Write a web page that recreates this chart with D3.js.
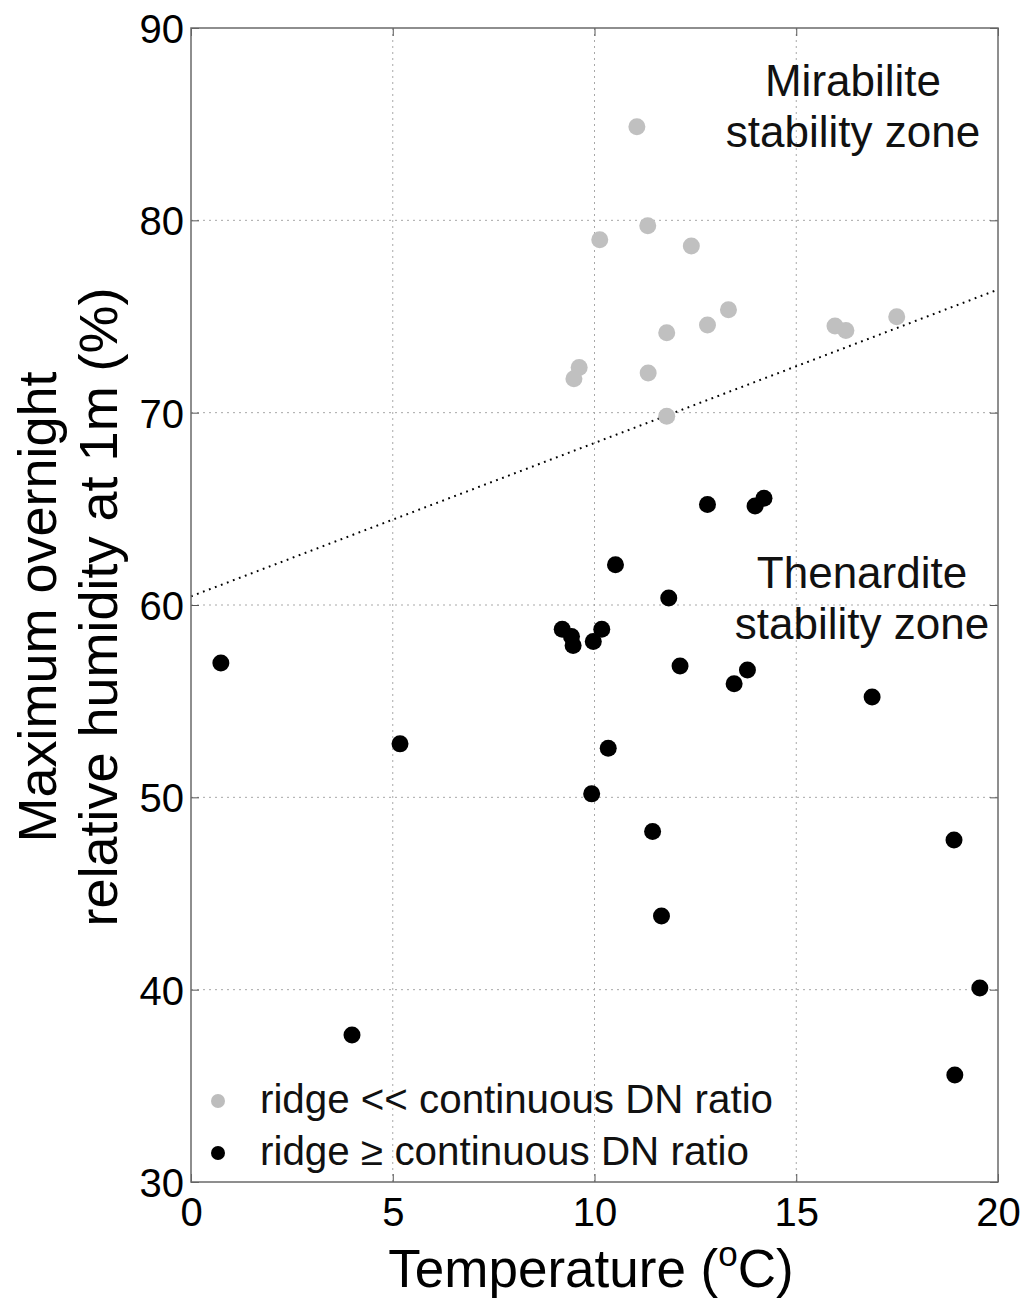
<!DOCTYPE html>
<html>
<head>
<meta charset="utf-8">
<script src="https://cdn.jsdelivr.net/npm/d3@7"></script>
<style>
  body { margin: 0; background: #fff; }
  svg { font-family: "Liberation Sans", Arial, sans-serif; }
</style>
</head>
<body>
<svg id="chart" width="1024" height="1306"></svg>
<script>
// gray points: ridge << continuous DN ratio
const grayTemp = [11.05, 10.13, 11.32, 12.40, 9.62, 9.49, 11.79, 12.80, 13.32, 11.33, 11.79, 15.96, 16.23, 17.49];
const grayRH   = [84.87, 78.99, 79.72, 78.67, 72.35, 71.76, 74.16, 74.56, 75.35, 72.06, 69.81, 74.51, 74.27, 74.99];

// black points: ridge >= continuous DN ratio
const blackTemp = [12.80, 13.98, 14.20, 10.52, 11.84, 9.20, 9.43, 9.47, 10.18, 9.97, 12.12, 13.79, 13.46,
                   0.74, 5.18, 10.34, 9.93, 11.44, 11.66, 16.88, 18.91, 19.55, 18.93, 3.99];
const blackRH   = [65.23, 65.15, 65.55, 62.09, 60.36, 58.74, 58.36, 57.90, 58.74, 58.10, 56.83, 56.62, 55.90,
                   56.99, 52.78, 52.55, 50.18, 48.22, 43.83, 55.22, 47.78, 40.09, 35.56, 37.64];

// dotted stability boundary
const boundaryTemp = [0, 20];
const boundaryRH = [60.45, 76.4];

const xTicks = [0, 5, 10, 15, 20];
const yTicks = [30, 40, 50, 60, 70, 80, 90];

const legendLabels = ['ridge << continuous DN ratio', 'ridge \u2265 continuous DN ratio'];
const legendColors = ['#bdbdbd', '#000000'];

const margin = { top: 28, right: 26, bottom: 124, left: 191 };
const width = 1024, height = 1306;

const svg = d3.select('#chart');

const x = d3.scaleLinear().domain([0, 20]).range([margin.left, width - margin.right]);
const y = d3.scaleLinear().domain([30, 90]).range([height - margin.bottom, margin.top]);

// grid
const grid = svg.append('g')
    .attr('stroke', '#a8a8a8')
    .attr('stroke-width', 1)
    .attr('stroke-dasharray', '2,4');
grid.selectAll('.gx').data(xTicks.slice(1, -1)).join('line')
    .attr('x1', d => x(d)).attr('x2', d => x(d))
    .attr('y1', y(30)).attr('y2', y(90));
grid.selectAll('.gy').data(yTicks.slice(1, -1)).join('line')
    .attr('x1', x(0)).attr('x2', x(20))
    .attr('y1', d => y(d)).attr('y2', d => y(d));

// boundary line
svg.append('line')
    .attr('x1', x(boundaryTemp[0])).attr('y1', y(boundaryRH[0]))
    .attr('x2', x(boundaryTemp[1])).attr('y2', y(boundaryRH[1]))
    .attr('stroke', '#000')
    .attr('stroke-width', 2)
    .attr('stroke-dasharray', '1.8,4.6');

// points
svg.append('g').attr('fill', '#c0c0c0')
    .selectAll('circle')
    .data(grayTemp.map((t, i) => [t, grayRH[i]]))
    .join('circle')
    .attr('cx', d => x(d[0])).attr('cy', d => y(d[1])).attr('r', 8.5);

svg.append('g').attr('fill', '#000')
    .selectAll('circle')
    .data(blackTemp.map((t, i) => [t, blackRH[i]]))
    .join('circle')
    .attr('cx', d => x(d[0])).attr('cy', d => y(d[1])).attr('r', 8.5);

// axes (ticks inside, on all four sides)
svg.append('g').attr('transform', `translate(0,${y(30)})`)
    .call(d3.axisBottom(x).tickValues(xTicks).tickSize(-8).tickSizeOuter(0))
    .call(g => g.select('.domain').remove())
    .call(g => g.selectAll('text').attr('font-size', 40).attr('fill', '#000').attr('y', 44).attr('dy', 0));
svg.append('g').attr('transform', `translate(${x(0)},0)`)
    .call(d3.axisLeft(y).tickValues(yTicks).tickSize(-8).tickSizeOuter(0))
    .call(g => g.select('.domain').remove())
    .call(g => g.selectAll('text').attr('font-size', 40).attr('fill', '#000').attr('x', -7).attr('dy', '0.36em'));
svg.append('g').attr('transform', `translate(0,${y(90)})`)
    .call(d3.axisTop(x).tickValues(xTicks).tickSize(-8).tickFormat('').tickSizeOuter(0))
    .call(g => g.select('.domain').remove());
svg.append('g').attr('transform', `translate(${x(20)},0)`)
    .call(d3.axisRight(y).tickValues(yTicks).tickSize(-8).tickFormat('').tickSizeOuter(0))
    .call(g => g.select('.domain').remove());
svg.selectAll('.tick line').attr('stroke', '#555');

// frame
svg.append('rect')
    .attr('x', x(0)).attr('y', y(90))
    .attr('width', x(20) - x(0)).attr('height', y(30) - y(90))
    .attr('fill', 'none').attr('stroke', '#6a6a6a').attr('stroke-width', 1.5);

// zone labels
const zone = (lines, cx, cy) => {
  const t = svg.append('text').attr('text-anchor', 'middle').attr('font-size', 44).attr('fill', '#111');
  lines.forEach((s, i) => t.append('tspan').attr('x', cx).attr('y', cy + i * 51).text(s));
};
zone(['Mirabilite', 'stability zone'], 853, 96);
zone(['Thenardite', 'stability zone'], 862, 588);

// legend
const legend = svg.append('g');
legendLabels.forEach((s, i) => {
  const ly = 1101 + i * 52;
  legend.append('circle').attr('cx', 218).attr('cy', ly).attr('r', 7).attr('fill', legendColors[i]);
  legend.append('text').attr('x', 260).attr('y', ly + 12).attr('font-size', 40).attr('fill', '#111')
      .attr('textLength', i === 0 ? 513 : 489).attr('lengthAdjust', 'spacingAndGlyphs').text(s);
});

// axis titles
const xt = svg.append('text').attr('x', 591).attr('y', 1287).attr('text-anchor', 'middle')
    .attr('font-size', 53).attr('fill', '#000');
xt.append('tspan').text('Temperature (');
xt.append('tspan').attr('font-size', 35).attr('dy', -21).text('o');
xt.append('tspan').attr('dy', 21).text('C)');

const yt = svg.append('text').attr('transform', 'translate(0,607) rotate(-90)')
    .attr('text-anchor', 'middle').attr('font-size', 54).attr('fill', '#000');
yt.append('tspan').attr('x', 0).attr('y', 56).text('Maximum overnight');
yt.append('tspan').attr('x', 0).attr('y', 117).text('relative humidity at 1m (%)');
</script>
</body>
</html>
